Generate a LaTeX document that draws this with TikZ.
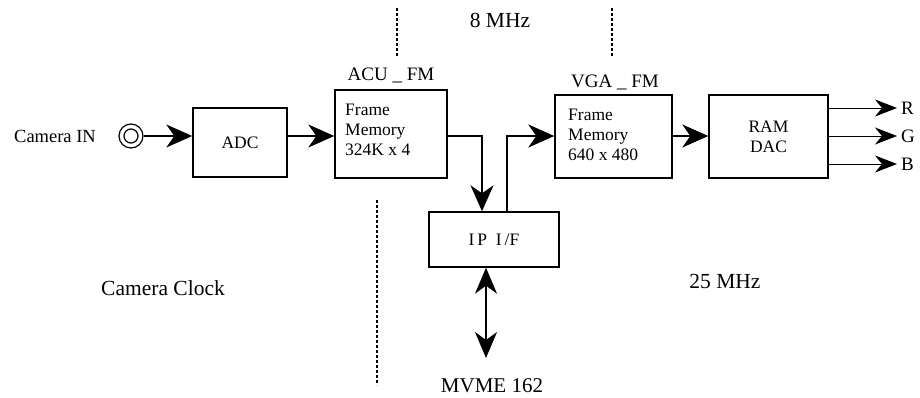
\documentclass[tikz,border=0pt]{standalone}
\usepackage{fontspec}
\setmainfont{Liberation Serif}
\usetikzlibrary{arrows.meta}
\begin{document}
\begin{tikzpicture}[x=1pt,y=-1pt,
  box/.style={draw,line width=1.4pt,rectangle,inner sep=0pt,font=\fontsize{17.5}{20}\selectfont},
  lbl/.style={inner sep=0pt,font=\fontsize{21.5}{24}\selectfont},
  blbl/.style={inner sep=0pt,font=\fontsize{17.5}{20}\selectfont,align=left},
  arr/.style={line width=1.6pt,-{Stealth[length=26pt,width=23pt,inset=8pt]}},
  arrb/.style={line width=1.2pt,{Stealth[length=26pt,width=22pt,inset=8pt]}-{Stealth[length=26pt,width=22pt,inset=8pt]}},
  thin/.style={line width=1pt,-{Stealth[length=22pt,width=17pt,inset=7pt]}},
  dots/.style={line width=2pt,dash pattern=on 2.5pt off 2.5pt}]
\useasboundingbox (0,0) rectangle (920,397);
% boxes
\node[box,minimum width=94pt,minimum height=69pt] (adc) at (240,142.5) {ADC};
\node[box,minimum width=112pt,minimum height=88pt] (acu) at (391,134) {};
\node[box,minimum width=130pt,minimum height=55pt] (ip) at (494,239.5) {I\,P\enspace I\,/F};
\node[box,minimum width=117pt,minimum height=83pt] (vga) at (613.5,136.5) {};
\node[box,minimum width=119pt,minimum height=83pt,align=center] (ram) at (768.5,136.5) {RAM\\DAC};
% box texts
\node[blbl,anchor=west] (acutxt) at (345,130) {Frame\\Memory\\324K x 4};
\node[blbl,anchor=west] (vgatxt) at (568,135) {Frame\\Memory\\640 x 480};
\node[lbl,font=\fontsize{19}{22}\selectfont] (acul) at (391,75) {ACU \_ FM};
\node[lbl,font=\fontsize{19}{22}\selectfont] (vgal) at (615,82) {VGA \_ FM};
% jack
\node[draw,circle,line width=1.2pt,minimum size=24pt,inner sep=0pt] (jack) at (131,136) {};
\node[draw,circle,line width=1.2pt,minimum size=14pt,inner sep=0pt] (jackin) at (131,136) {};
\node[lbl,font=\fontsize{18.5}{20}\selectfont] (camin) at (55,136) {Camera IN};
% coordinates
\coordinate (c1) at (482,136);
\coordinate (c2) at (507,136);
\coordinate (c3) at (486,358);
% connectors
\draw[arr] (jack.east) -- (adc.west |- jack);
\draw[arr] (adc.east |- jack) -- (acu.west |- jack);
\draw[arr] (acu.east |- c1) -| (ip.north -| c1);
\draw[arr] (ip.north -| c2) |- (vga.west |- c2);
\draw[arr] (vga.east |- c2) -- (ram.west |- c2);
\draw[arrb] (ip.south -| c3) -- (c3);
% RGB
\node[lbl,font=\fontsize{19}{22}\selectfont,anchor=west] (r) at (901,108) {R};
\node[lbl,font=\fontsize{19}{22}\selectfont,anchor=west] (g) at (901,136) {G};
\node[lbl,font=\fontsize{19}{22}\selectfont,anchor=west] (b) at (901,164) {B};
\draw[thin] (ram.east |- r) -- ([xshift=-4pt]r.west);
\draw[thin] (ram.east |- g) -- ([xshift=-4pt]g.west);
\draw[thin] (ram.east |- b) -- ([xshift=-4pt]b.west);
% other labels
\node[lbl,font=\fontsize{21}{24}\selectfont] (mvme) at (492,386) {MVME 162};
\node[lbl] (mhz8) at (500,20) {8 MHz};
\node[lbl] (camclk) at (163,288) {Camera Clock};
\node[lbl] (mhz25) at (725,281) {25 MHz};
% dotted lines
\draw[dots] (397,8) -- (397,56);
\draw[dots] (612,8) -- (612,56);
\draw[dots] (377,200) -- (377,385);
\end{tikzpicture}
\end{document}
